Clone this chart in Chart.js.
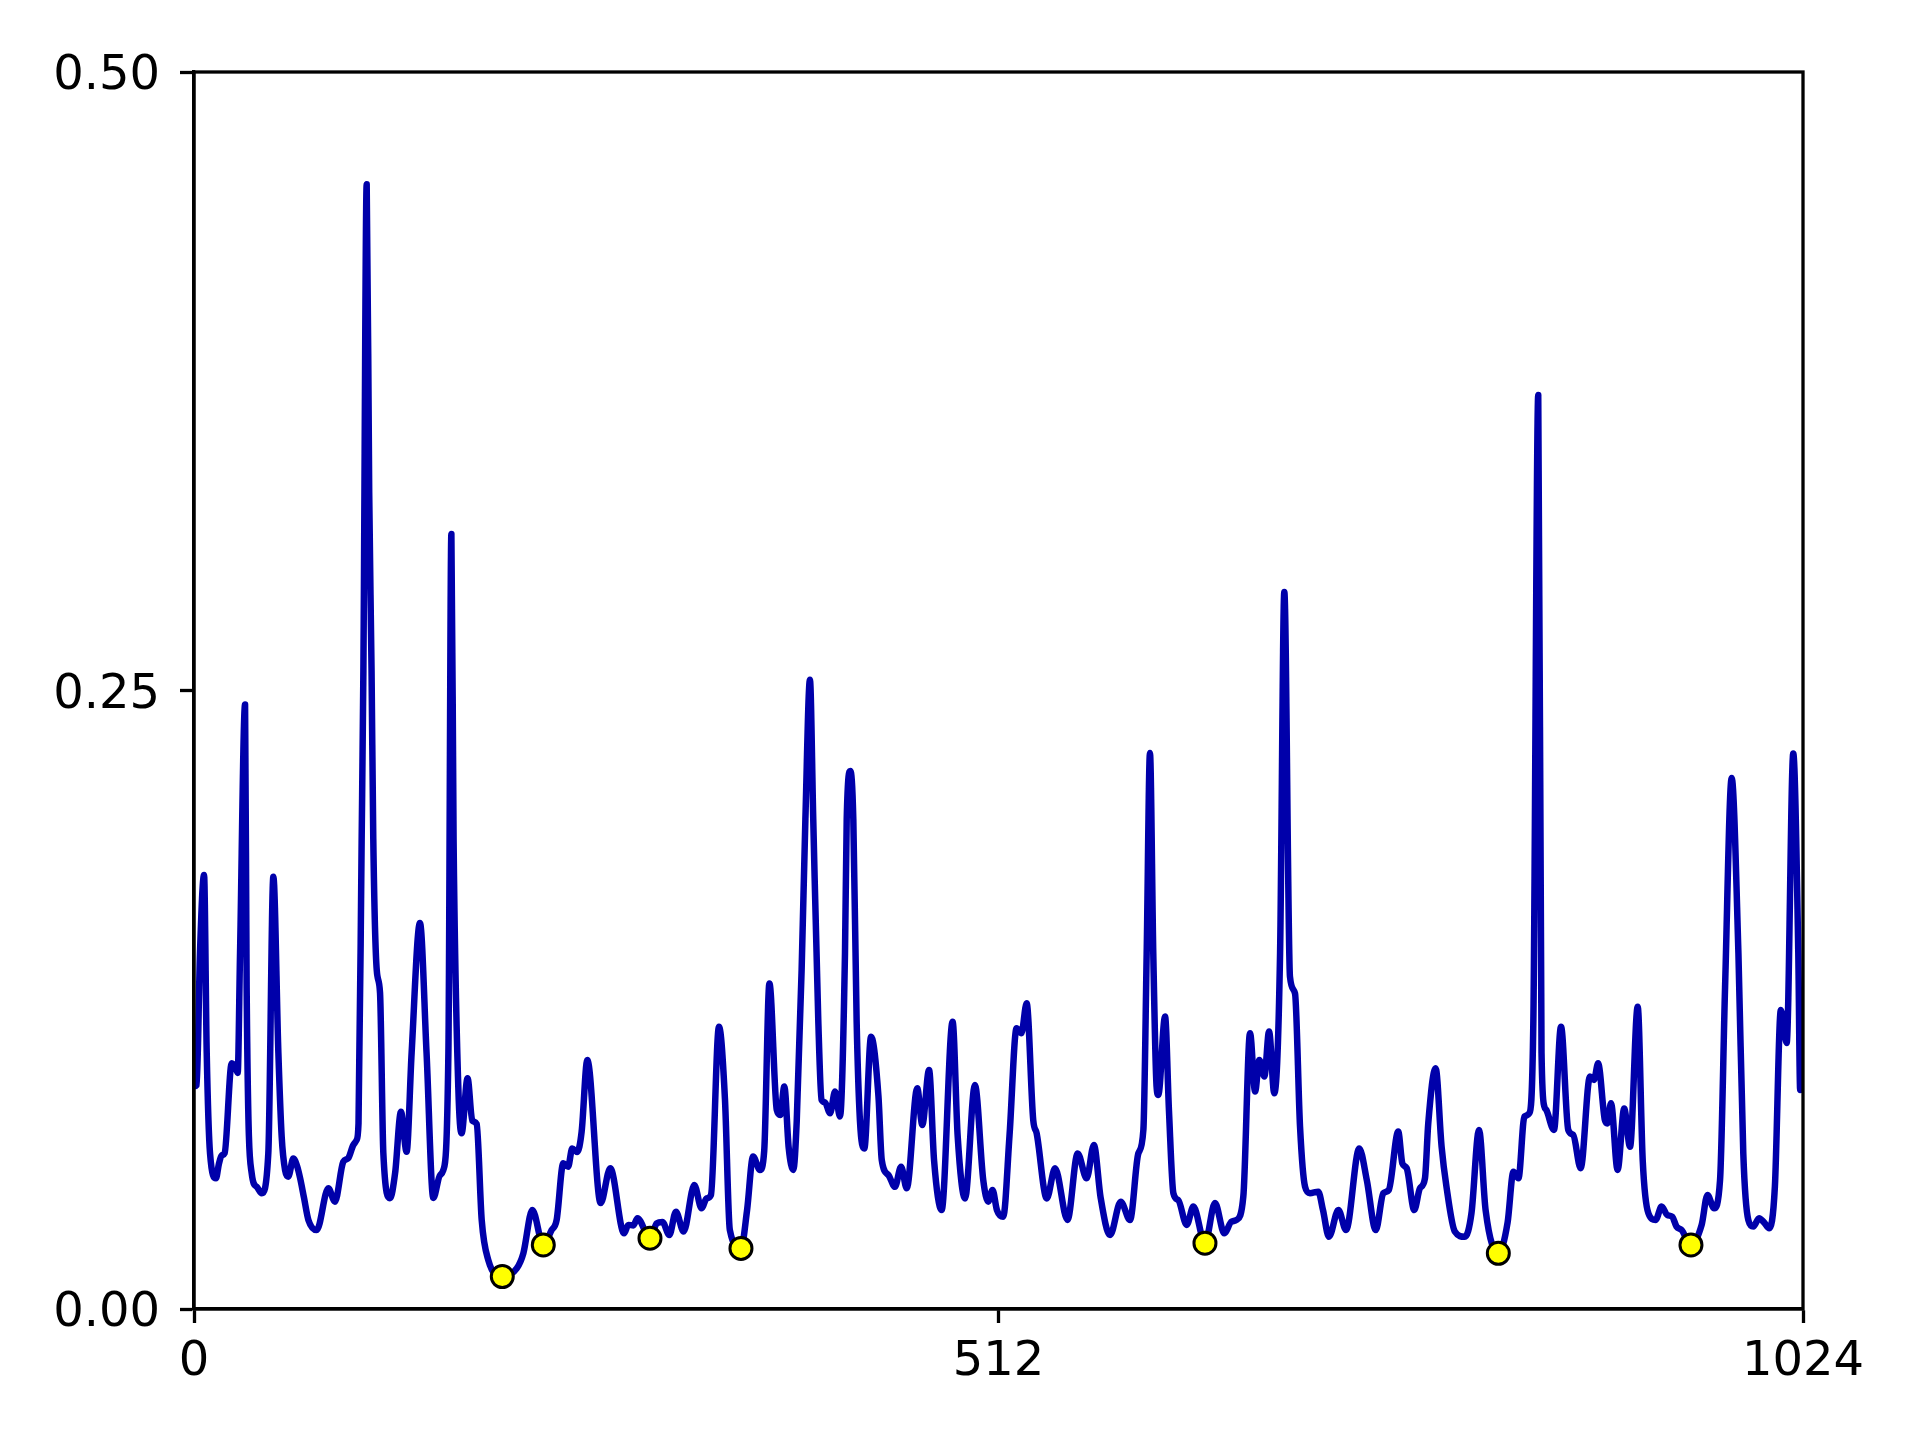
<!DOCTYPE html>
<html>
<head>
<meta charset="utf-8">
<script src="https://cdn.jsdelivr.net/npm/chart.js@4.4.1/dist/chart.umd.min.js"></script>
<style>
  html, body { margin: 0; padding: 0; background: #ffffff; }
  #wrap { width: 1920px; height: 1440px; position: relative; }
  canvas { display: block; }
</style>
</head>
<body>
<div id="wrap"><canvas id="c" width="1920" height="1440"></canvas></div>
<script>
// ---- data ----
const sampleX = [
  0, 1.7, 3.8, 6.4, 8.1, 10.2, 14, 15.8, 17.5, 19.5, 24, 26.5, 27.8, 29.3, 32.5, 33.5, 36.7, 39.9, 43.1,
  47.3, 50.5, 53.7, 55.8, 58, 60, 63.2, 65.5, 67.5, 70, 72.8, 78.1, 85.5, 89.7, 95, 98.2, 101.4, 103.5,
  104.7, 106.7, 107.8, 109.9, 111.5, 113, 114.1, 116.3, 118.4, 120.5, 124.7, 128, 131.7, 135.3, 138.5,
  143.8, 148, 152.3, 156.6, 158.7, 161.9, 163.8, 165.2, 168.2, 170.3, 174.1, 177.1, 179.9, 183.1, 187.3,
  196.2, 205.4, 209.6, 215.3, 222.3, 227.6, 230.8, 235, 238.1, 240.7, 243.9, 246.7, 250.3, 258.8, 264.9,
  273.7, 276.4, 279.6, 282.2, 290.2, 294.5, 298.1, 302.5, 306.7, 311.6, 318.4, 323, 326.2, 329, 334.1,
  337.9, 341, 348.1, 352, 355.8, 360.2, 362.9, 366.2, 370.9, 373.1, 375.7, 378.5, 381.4, 383.6, 386.7,
  389.1, 392, 394.1, 397.3, 399.4, 401.6, 404.8, 408, 411.1, 414.3, 415.4, 417.7, 419.6, 421.7, 423.8,
  426.6, 430.9, 435.6, 437.7, 442, 446.1, 450, 453.6, 460.3, 463.5, 467.8, 471, 475.8, 482.8, 486, 490.7,
  497, 502.3, 505.5, 508.2, 511, 515, 519, 523.5, 526.6, 529.9, 534.1, 536.3, 542.7, 548, 555.9, 562.4,
  568.1, 572.7, 577, 583, 589.8, 595.7, 601, 604.2, 606.3, 608.4, 610.5, 612.6, 613.7, 618, 620.5, 623.3,
  626.4, 631.8, 636, 643.4, 649.8, 655.7, 660.3, 663.5, 667.8, 672.1, 675.3, 678, 681.2, 684.2, 687.5,
  691.2, 693.9, 697.5, 700.7, 703.9, 707.1, 710.2, 715.5, 718.5, 722.3, 728.3, 733.2, 741.6, 746.4, 752.1,
  756.9, 760.4, 766.4, 769, 771.8, 776.6, 780.2, 783.4, 785.5, 790.2, 794, 797.1, 802.4, 808.8, 813,
  817.8, 822, 830.1, 836, 839.7, 842.9, 846.7, 849.8, 852.4, 855.5, 857.6, 859.4, 860.7, 865.5, 870,
  874.6, 877.8, 882.5, 888.4, 891, 893.6, 897.9, 899.5, 901.8, 906, 910.2, 913.9, 918.8, 922, 925.6,
  930.2, 934, 937.6, 940.8, 943.5, 946.7, 952.7, 959.5, 963.2, 967.4, 971.2, 974.4, 978.6, 982.9, 986,
  989.2, 992.4, 996, 999.2, 1002.5, 1006.1, 1009.9, 1013.6, 1017.8, 1021, 1022.2, 1023
];
const sampleY = [
  0.090, 0.0905, 0.1438, 0.1754, 0.1034, 0.063, 0.0528, 0.0585, 0.062, 0.063, 0.0993, 0.0975, 0.0954, 0.1438, 0.2443, 0.13, 0.0549, 0.0494, 0.0468,
  0.063, 0.1747, 0.1035, 0.0697, 0.056, 0.0535, 0.0608, 0.058, 0.053, 0.045, 0.036, 0.0319, 0.0488, 0.0434, 0.0595, 0.061, 0.0663, 0.0683,
  0.075, 0.19, 0.258, 0.4546, 0.33, 0.258, 0.19, 0.137, 0.1277, 0.063, 0.0448, 0.055, 0.0797, 0.0636, 0.1035,
  0.156, 0.1035, 0.0449, 0.0541, 0.0562, 0.1035, 0.3133, 0.19, 0.0899, 0.071, 0.0933, 0.0761, 0.0748, 0.036, 0.0198,
  0.0131, 0.0164, 0.0225, 0.040, 0.0259, 0.0319, 0.036, 0.0589, 0.0575, 0.0649, 0.0635, 0.0717, 0.1006, 0.0428, 0.0569,
  0.0306, 0.034, 0.0338, 0.0367, 0.0286, 0.0346, 0.0352, 0.0299, 0.0393, 0.0313, 0.0501, 0.0407, 0.0447, 0.0461, 0.1141,
  0.085, 0.032, 0.0245, 0.040, 0.0616, 0.0562, 0.064, 0.1316, 0.0804, 0.0784, 0.0899, 0.065, 0.0562, 0.076, 0.137,
  0.198, 0.2543, 0.198, 0.1168, 0.0845, 0.0835, 0.0791, 0.0879, 0.0778, 0.1438, 0.198, 0.2175, 0.198, 0.1168, 0.0764,
  0.0649, 0.110, 0.086, 0.0602, 0.0541, 0.0494, 0.0575, 0.0488, 0.0892, 0.0744, 0.0966, 0.060, 0.040, 0.1161, 0.070, 0.0447,
  0.0905, 0.0521, 0.0434, 0.0481, 0.040, 0.0373, 0.070, 0.1135, 0.1115, 0.1236, 0.0764, 0.071, 0.0447, 0.0569, 0.036, 0.0629,
  0.0528, 0.0663, 0.045, 0.0299, 0.0434, 0.036, 0.0629, 0.0724, 0.1438, 0.2247, 0.1438, 0.0899, 0.0865, 0.1182, 0.080, 0.0468,
  0.044, 0.034, 0.0414, 0.0266, 0.0428, 0.0306, 0.0353, 0.036, 0.0454, 0.1115, 0.0879, 0.1006, 0.094, 0.1122, 0.0872,
  0.1438, 0.2898, 0.1343, 0.1276, 0.0737, 0.0494, 0.0468, 0.0474, 0.040, 0.0292, 0.040, 0.0319, 0.0649, 0.0521, 0.0319,
  0.0468, 0.0481, 0.0717, 0.0589, 0.0569, 0.040, 0.0488, 0.0528, 0.075, 0.0973, 0.0656, 0.0494, 0.0313, 0.0292, 0.0387,
  0.0724, 0.040, 0.0225, 0.035, 0.0555, 0.0528, 0.0778, 0.0791, 0.1168, 0.3694, 0.1034, 0.0818, 0.0804, 0.0724, 0.1141,
  0.0724, 0.0703, 0.0569, 0.094, 0.0926, 0.0993, 0.0764, 0.075, 0.0832, 0.0562, 0.081, 0.0656, 0.1222, 0.060, 0.0387,
  0.036, 0.0414, 0.038, 0.0373, 0.0333, 0.032, 0.0259, 0.034, 0.0461, 0.0407, 0.0521, 0.130, 0.2146, 0.1438, 0.0629,
  0.036, 0.0333, 0.0367, 0.035, 0.0326, 0.0494, 0.1209, 0.1075, 0.2245, 0.144, 0.0885, 0.089
];
const minimaX = [196.2, 222.3, 290.2, 348.1, 643.4, 830.1, 952.7];
const minimaY = [0.0131, 0.0259, 0.0286, 0.0245, 0.0266, 0.0225, 0.0259];
const xTickValues = [0, 512, 1024];
const yTickValues = [0, 0.25, 0.5];
const yTickLabels = ['0.00', '0.25', '0.50'];

// ---- build chart ----
const linePoints = sampleX.map((x, i) => ({ x: x, y: sampleY[i] }));
const markerPoints = minimaX.map((x, i) => ({ x: x, y: minimaY[i] }));

const FONT_FAMILY = "'DejaVu Sans', sans-serif";
const FONT_SIZE = 48;
const FONT = { family: FONT_FAMILY, size: FONT_SIZE };

const framePlugin = {
  id: 'frame',
  afterDatasetsDraw(chart) {
    const a = chart.chartArea;
    const ctx = chart.ctx;
    ctx.save();
    ctx.strokeStyle = '#000000';
    ctx.lineWidth = 3.3;
    ctx.strokeRect(a.left, a.top, a.right - a.left, a.bottom - a.top);
    ctx.restore();
  },
  afterDraw(chart) {
    const ys = chart.scales.y;
    const ctx = chart.ctx;
    ctx.save();
    ctx.font = FONT_SIZE + 'px ' + FONT_FAMILY;
    ctx.fillStyle = '#000000';
    ctx.textAlign = 'right';
    ctx.textBaseline = 'alphabetic';
    const capH = FONT_SIZE * 0.729;
    yTickValues.forEach((v, i) => {
      const py = ys.getPixelForValue(v);
      ctx.fillText(yTickLabels[i], ys.right - 14 - 20, py + capH / 2);
    });
    ctx.restore();
  }
};

new Chart(document.getElementById('c'), {
  type: 'line',
  data: {
    datasets: [
      {
        label: 'minima',
        data: markerPoints,
        showLine: false,
        pointRadius: 11,
        pointHoverRadius: 11,
        pointBackgroundColor: '#ffff00',
        pointBorderColor: '#000000',
        pointBorderWidth: 3,
        order: 0
      },
      {
        label: 'signal',
        data: linePoints,
        borderColor: '#0000aa',
        borderWidth: 6.5,
        borderJoinStyle: 'round',
        borderCapStyle: 'round',
        pointRadius: 0,
        fill: false,
        cubicInterpolationMode: 'monotone',
        order: 1
      }
    ]
  },
  options: {
    responsive: false,
    animation: false,
    devicePixelRatio: 1,
    layout: { padding: { top: 72, right: 117, left: 0, bottom: 0 } },
    plugins: { legend: { display: false }, tooltip: { enabled: false } },
    scales: {
      x: {
        type: 'linear',
        position: 'bottom',
        min: 0,
        max: 1024,
        afterBuildTicks: (s) => { s.ticks = xTickValues.map(v => ({ value: v })); },
        afterFit: (s) => { s.height = 131; },
        ticks: {
          font: FONT, color: '#000000', padding: 11, maxRotation: 0, autoSkip: false,
          callback: (v) => String(v)
        },
        grid: { drawOnChartArea: false, drawTicks: true, tickLength: 14, tickWidth: 3.3, tickColor: '#000000' },
        border: { display: true, color: '#000000', width: 3.3 }
      },
      y: {
        type: 'linear',
        min: 0,
        max: 0.5,
        afterBuildTicks: (s) => { s.ticks = yTickValues.map(v => ({ value: v })); },
        afterFit: (s) => { s.width = 194; },
        ticks: { display: false, font: FONT, autoSkip: false },
        grid: { drawOnChartArea: false, drawTicks: true, tickLength: 14, tickWidth: 3.3, tickColor: '#000000' },
        border: { display: true, color: '#000000', width: 3.3 }
      }
    }
  },
  plugins: [framePlugin]
});
</script>
</body>
</html>
